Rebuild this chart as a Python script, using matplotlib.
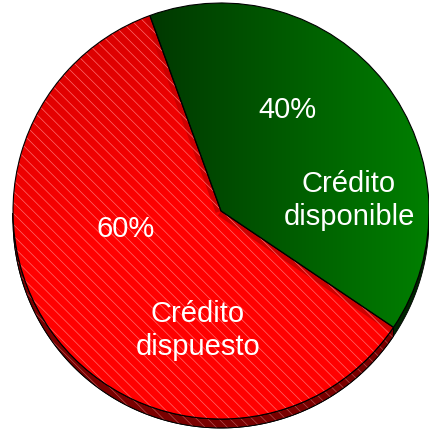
import numpy as np
import matplotlib.pyplot as plt
from matplotlib.patches import Wedge, Polygon

labels = ['Crédito disponible', 'Crédito dispuesto']
values = [40, 60]
top_colors = [((0.0, 0.22, 0.0), (0.0, 0.50, 0.0)), ((0.80, 0.0, 0.0), (1.0, 0.0, 0.0))]
side_colors = ['#002400', '#7a0000']

W, H = 429, 432
cx, cy, r, depth = 221, 221, 208, 9
start = 110  # boundary between the two slices, going clockwise

plt.rcParams['font.family'] = ['Liberation Sans', 'DejaVu Sans']
plt.rcParams['hatch.linewidth'] = 0.5

fig = plt.figure(figsize=(W / 100, H / 100), dpi=100)
ax = fig.add_axes([0, 0, 1, 1])
ax.set_xlim(0, W)
ax.set_ylim(0, H)
ax.axis('off')

# slice angles from the values (clockwise from start)
total = sum(values)
spans = []
a = start
for v in values:
    sweep = 360 * v / total
    spans.append((a - sweep, a))
    a -= sweep

# side wall of the disc (only the lower half shows)
for (t1, t2), sc, i in zip(spans, side_colors, range(len(values))):
    angs = []
    for t in np.linspace(t1, t2, 200):
        tm = t % 360
        if 180 <= tm <= 360:
            angs.append(np.radians(t))
    if not angs:
        continue
    angs = np.array(angs)
    x = cx + r * np.cos(angs)
    y = cy + r * np.sin(angs)
    pts = np.vstack([np.column_stack([x, y]), np.column_stack([x[::-1], y[::-1] - depth])])
    ax.add_patch(Polygon(pts, closed=True, facecolor=sc, edgecolor='black', lw=0.6))
    if i == 1:
        ax.add_patch(Polygon(pts, closed=True, fill=False, hatch='\\\\\\',
                             edgecolor=(0.7, 0.3, 0.3), lw=0))
        ax.add_patch(Polygon(pts, closed=True, fill=False, edgecolor='black', lw=0.6))

# top faces with gradient fills
for i, ((t1, t2), (c0, c1)) in enumerate(zip(spans, top_colors)):
    w = Wedge((cx, cy), r, t1, t2, facecolor='none', edgecolor='none')
    ax.add_patch(w)
    n = 256
    if i == 0:
        g = np.linspace(0, 1, n)[None, :]
        g = np.clip((g * W - 150) / (W - 150), 0, 1)
    else:
        xx, yy = np.meshgrid(np.linspace(0, 1, n), np.linspace(1, 0, n))
        g = np.clip(((1 - yy) * 0.7 + xx * 0.3) * 2.2, 0, 1)
    img = np.zeros(g.shape + (3,))
    for k in range(3):
        img[..., k] = c0[k] + (c1[k] - c0[k]) * g
    im = ax.imshow(img, extent=(0, W, 0, H), origin='upper', aspect='auto',
                   interpolation='bilinear', zorder=1)
    im.set_clip_path(w)

    if i == 1:
        # darker band along the radial edges
        for t in (t1, t2):
            ex = cx + r * np.cos(np.radians(t))
            ey = cy + r * np.sin(np.radians(t))
            ln, = ax.plot([cx, ex], [cy, ey], color=(0.8, 0.0, 0.0), lw=8,
                          solid_capstyle='butt', zorder=1.5)
            ln.set_clip_path(w)
        ax.add_patch(Wedge((cx, cy), r, t1, t2, fill=False, hatch='\\\\\\',
                           edgecolor=(1.0, 0.42, 0.42), lw=0, zorder=2))

for (t1, t2) in spans:
    ax.add_patch(Wedge((cx, cy), r, t1, t2, fill=False, edgecolor='black',
                       lw=0.8, zorder=3))

# labels
pct_pos = [(287, 314), (125.5, 195)]
name_pos = [(349, 240), (198, 110)]
for v, lab, (px, py), (nx, ny) in zip(values, labels, pct_pos, name_pos):
    ax.text(px, py, f'{round(100 * v / total)}%', color='white', fontsize=21,
            ha='center', va='baseline', zorder=4)
    first, second = lab.split(' ', 1)
    ax.text(nx, ny, first, color='white', fontsize=21, ha='center', va='baseline', zorder=4)
    ax.text(nx, ny - 33, second, color='white', fontsize=21, ha='center', va='baseline', zorder=4)

fig.savefig('out.png', dpi=100)
